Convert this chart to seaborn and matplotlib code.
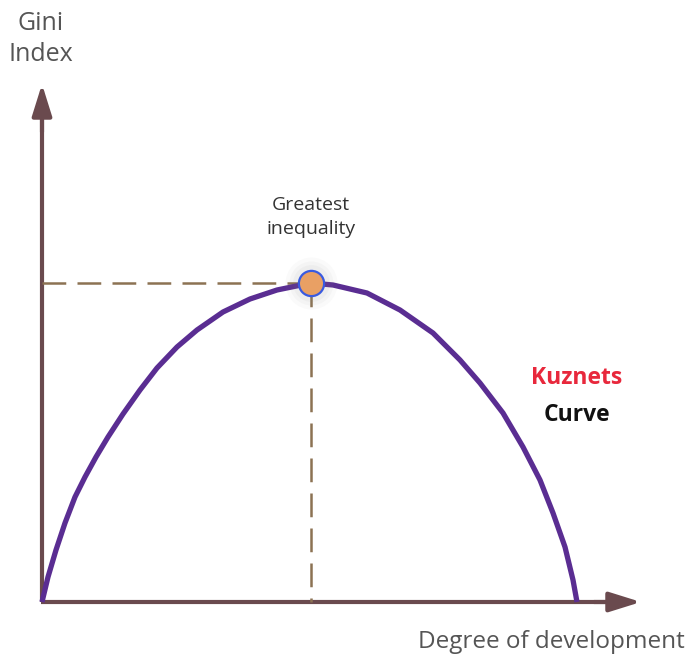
import numpy as np
import pandas as pd
import matplotlib
matplotlib.use("Agg")
import matplotlib.pyplot as plt
import seaborn as sns

# ---- data (x = development, y = Gini) ----
curve_x = [0, 6, 14, 23, 33, 43, 54, 66, 81, 98, 115, 135, 155, 181, 208, 235,
           269, 291, 325, 358, 391, 418, 438, 461, 481, 498, 511, 523, 531, 535]
curve_y = [0, 25, 52, 79, 105, 125, 145, 165, 188, 212, 234, 255, 272, 290, 303, 312,
           319, 317, 309, 292, 269, 242, 219, 189, 155, 122, 89, 55, 22, 0]
peak_x = [269]
peak_y = [319]
x_label = "Degree of development"
y_label = "Gini\nIndex"
peak_label = "Greatest\ninequality"
curve_name = ["Kuznets", "Curve"]

sns.set_theme(style="white")
plt.rcParams["font.family"] = ["Open Sans", "DejaVu Sans"]

fig = plt.figure(figsize=(6.96, 6.57), dpi=100)
ax = fig.add_axes([0, 0, 1, 1])
ax.set_xlim(-42, 654)
ax.set_ylim(-55, 602)
ax.axis("off")

axis_col = "#6a4a4e"
dash_col = "#8c7253"

# axes with arrows
ax.plot([0, 0], [0, 490], color=axis_col, lw=3.0, solid_capstyle="butt", zorder=2)
ax.annotate("", xy=(0, 518), xytext=(0, 470),
            arrowprops=dict(arrowstyle="-|>,head_length=1.6,head_width=0.5",
                            color=axis_col, lw=3.0, shrinkA=0, shrinkB=0), zorder=2)
ax.plot([-1.5, 572], [0, 0], color=axis_col, lw=3.0, solid_capstyle="butt", zorder=2)
ax.annotate("", xy=(599, 0), xytext=(552, 0),
            arrowprops=dict(arrowstyle="-|>,head_length=1.6,head_width=0.5",
                            color=axis_col, lw=3.0, shrinkA=0, shrinkB=0), zorder=2)

# dashed guides
ax.plot([0, peak_x[0]], [peak_y[0], peak_y[0]], color=dash_col, lw=1.8,
        dashes=(9.5, 4.5), zorder=3)
ax.plot([peak_x[0], peak_x[0]], [peak_y[0], 0], color=dash_col, lw=1.8,
        dashes=(9.5, 4.5), zorder=3)

# curve
df = pd.DataFrame({"x": curve_x, "y": curve_y})
sns.lineplot(data=df, x="x", y="y", ax=ax, color="#5a2d92", lw=3.8,
             sort=False, estimator=None, zorder=4,
             solid_joinstyle="round", solid_capstyle="butt")

# glow around the peak point
for s, a in [(1400, 0.04), (1000, 0.05), (700, 0.06)]:
    ax.scatter(peak_x, peak_y, s=s, color="#888888", alpha=a, lw=0, zorder=4)
pk = pd.DataFrame({"x": peak_x, "y": peak_y})
sns.scatterplot(data=pk, x="x", y="y", ax=ax, s=330, color="#e9a064",
                edgecolor="#3a5be0", linewidth=1.6, zorder=6)
ax.set_xlabel("")
ax.set_ylabel("")

# texts
ax.text(-1, 563, y_label, ha="center", va="center", fontsize=18,
        color="#555555", linespacing=1.3)
ax.text(509, -40, x_label, ha="center", va="center", fontsize=17.5,
        color="#555555")
ax.text(peak_x[0], 385, peak_label, ha="center", va="center", fontsize=14,
        color="#333333", linespacing=1.4)
ax.text(535, 224, curve_name[0], ha="center", va="center", fontsize=16.5,
        color="#e8283c", fontweight="bold")
ax.text(535, 187, curve_name[1], ha="center", va="center", fontsize=16.5,
        color="#111111", fontweight="bold")

fig.savefig("out.png", dpi=100)
